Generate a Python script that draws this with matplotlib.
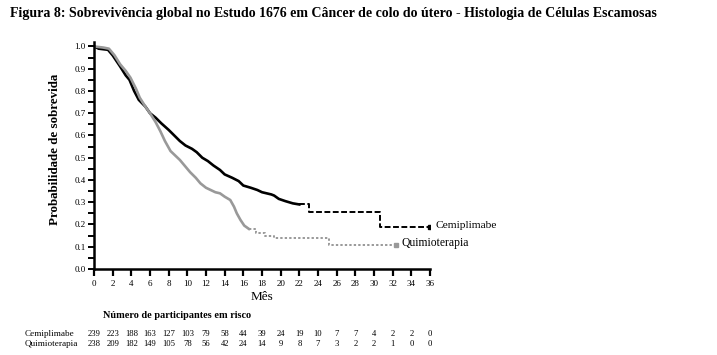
import matplotlib
matplotlib.use("Agg")
import matplotlib.pyplot as plt
import matplotlib.transforms as mtransforms
import numpy as np

# ---- data ----
cemi_t = [0, 0.5, 1.5, 2.0, 2.8, 3.4, 3.8, 4.3, 4.8, 5.5, 6.0, 6.6, 7.2, 8.0, 8.6, 9.2,
          9.8, 10.5, 11.0, 11.6, 12.2, 12.8, 13.5, 14.0, 14.8, 15.5, 16.0, 16.8, 17.5,
          18.0, 19.0, 19.3, 19.8, 20.5, 21.3, 22.0, 23.0, 30.6, 36.0]
cemi_s = [1.0, 0.99, 0.985, 0.96, 0.91, 0.87, 0.85, 0.80, 0.76, 0.73, 0.70, 0.68, 0.655,
          0.625, 0.60, 0.575, 0.555, 0.54, 0.525, 0.50, 0.485, 0.465, 0.445, 0.425, 0.41,
          0.395, 0.375, 0.365, 0.355, 0.345, 0.335, 0.33, 0.315, 0.305, 0.295, 0.29,
          0.257, 0.19, 0.19]
chemo_t = [0, 1.0, 1.6, 2.2, 2.8, 3.4, 3.9, 4.5, 4.9, 5.5, 6.0, 6.6, 7.1, 7.6, 8.2, 8.7,
           9.2, 9.8, 10.3, 10.9, 11.4, 12.0, 12.5, 13.0, 13.5, 14.0, 14.6, 15.0, 15.3,
           15.7, 16.1, 16.6, 17.4, 18.3, 19.3, 25.2, 32.4]
chemo_s = [1.0, 0.995, 0.99, 0.96, 0.92, 0.89, 0.86, 0.81, 0.77, 0.73, 0.70, 0.66, 0.62,
           0.575, 0.53, 0.51, 0.49, 0.46, 0.435, 0.41, 0.385, 0.365, 0.355, 0.345, 0.34,
           0.325, 0.31, 0.28, 0.25, 0.22, 0.195, 0.18, 0.16, 0.15, 0.138, 0.108, 0.108]

risk_months = list(range(0, 37, 2))
risk_cemi = [239, 223, 188, 163, 127, 103, 79, 58, 44, 39, 24, 19, 10, 7, 7, 4, 2, 2, 0]
risk_chemo = [238, 209, 182, 149, 105, 78, 56, 42, 24, 14, 9, 8, 7, 3, 2, 2, 1, 0, 0]

x_ticks = list(range(0, 37, 2))
y_ticks = [0.0, 0.1, 0.2, 0.3, 0.4, 0.5, 0.6, 0.7, 0.8, 0.9, 1.0]

title = "Figura 8: Sobrevivência global no Estudo 1676 em Câncer de colo do útero - Histologia de Células Escamosas"

plt.rcParams['font.family'] = ['Liberation Serif', 'DejaVu Serif']

W, H = 717, 355
fig = plt.figure(figsize=(W / 100, H / 100), dpi=100)
ax = fig.add_axes([94 / W, (H - 269) / H, (430 - 94) / W, (269 - 42) / H])

def split_at(t, s, cut):
    i = max(k for k in range(len(t)) if t[k] <= cut)
    return (t[:i + 1], s[:i + 1]), (t[i:], s[i:])

(a1, b1), (a2, b2) = split_at(cemi_t, cemi_s, 22.5)
ax.plot(a1, b1, color='black', lw=1.9, solid_joinstyle='miter')
ax.step(a2, b2, where='post', color='black', lw=1.4, ls=(0, (3, 1.3)))
ax.plot(cemi_t[-1], cemi_s[-1], marker='s', ms=2.5, color='black')

(c1, d1), (c2, d2) = split_at(chemo_t, chemo_s, 16.8)
ax.plot(c1, d1, color='#999999', lw=1.9)
ax.step(c2, d2, where='post', color='#999999', lw=1.4, ls=(0, (1.2, 1.1)))
ax.plot(chemo_t[-1], chemo_s[-1], marker='s', ms=2.5, color='#999999')

ax.set_xlim(0, 36)
ax.set_ylim(0, 1.02)
for sp in ['top', 'right']:
    ax.spines[sp].set_visible(False)
for sp in ['left', 'bottom']:
    ax.spines[sp].set_linewidth(1.8)

ax.set_xticks(x_ticks)
ax.set_xticklabels([str(v) for v in x_ticks], fontsize=6.5)
ax.set_yticks(y_ticks)
ax.set_yticklabels([f"{v:.1f}" for v in y_ticks], fontsize=6.5)
ax.set_yticks(np.arange(0.05, 1.0, 0.1), minor=True)
ax.tick_params(axis='x', length=5, width=1.6, pad=3)
ax.tick_params(axis='y', which='major', length=4, width=1.4, pad=2)
ax.tick_params(axis='y', which='minor', length=4, width=1.4)

ax.text(36.6, 0.197, "Cemiplimabe", fontsize=8.2, va='center', ha='left', clip_on=False)
ax.text(33.0, 0.117, "Quimioterapia", fontsize=8.4, va='center', ha='left', clip_on=False)

ax.set_xlabel("Mês", fontsize=9.5, labelpad=2)
fig.text(55 / W, (H - 149) / H, "Probabilidade de sobrevida", rotation=90,
         fontsize=9.4, fontweight='bold', ha='center', va='center')

fig.text(10 / W, (H - 14) / H, title, fontsize=10, fontweight='bold',
         ha='left', va='center')

# at-risk table
blend = mtransforms.blended_transform_factory(ax.transData, fig.transFigure)
fig.text(103 / W, (H - 316) / H, "Número de participantes em risco", fontsize=7.4,
         fontweight='bold', ha='left', va='center')
y1, y2 = (H - 334) / H, (H - 344) / H
fig.text(25 / W, y1, "Cemiplimabe", fontsize=6.6, ha='left', va='center')
fig.text(25 / W, y2, "Quimioterapia", fontsize=6.6, ha='left', va='center')
for m, a, b in zip(risk_months, risk_cemi, risk_chemo):
    fig.text(m, y1, str(a), transform=blend, fontsize=6.2, ha='center', va='center')
    fig.text(m, y2, str(b), transform=blend, fontsize=6.2, ha='center', va='center')

fig.savefig("out.png", dpi=100)
